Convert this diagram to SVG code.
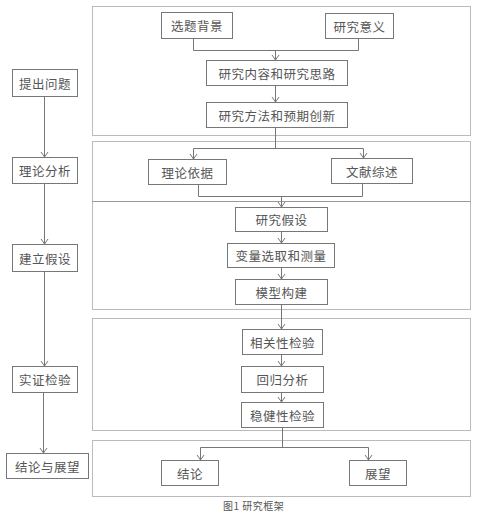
<svg xmlns="http://www.w3.org/2000/svg" width="492" height="523" viewBox="0 0 492 523">
<style>
.bg{fill:#fff}
.grp{fill:none;stroke:#777;stroke-width:1;stroke-dasharray:1 1}
.box{fill:#fff;stroke:#777;stroke-width:1}
.t{font-family:"Noto Sans CJK SC","Noto Sans CJK JP",sans-serif;font-size:12.5px;fill:#555;text-anchor:middle;dominant-baseline:central;letter-spacing:0.5px}
.cap{font-family:"Noto Sans CJK SC",sans-serif;font-size:10px;fill:#555;letter-spacing:0.5px}
.ln{fill:none;stroke:#777;stroke-width:1}
.ar{marker-end:url(#arr)}
</style>
<defs>
<marker id="arr" viewBox="-6 -5 7 10" markerWidth="7" markerHeight="10" refX="0" refY="0" orient="auto" markerUnits="userSpaceOnUse">
<path d="M-5,-3.5 L0,0 L-5,3.5" fill="none" stroke="#777" stroke-width="1"/>
</marker>
</defs>
<rect class="bg" x="0" y="0" width="492" height="523"/>
<g id="groups">
<rect class="grp" x="92.5" y="6.5" width="378" height="129"/>
<rect class="grp" x="92.5" y="141.5" width="378" height="60"/>
<rect class="grp" x="92.5" y="201.5" width="378" height="108"/>
<rect class="grp" x="92.5" y="318.5" width="378" height="112"/>
<rect class="grp" x="92.5" y="440.5" width="378" height="56"/>
</g>
<g id="connectors">
<path class="ln ar" d="M44.5,96 V157"/>
<path class="ln ar" d="M44.5,183 V244"/>
<path class="ln ar" d="M44.5,271 V366"/>
<path class="ln ar" d="M43.5,392 V453"/>
<path class="ln" d="M193.5,38 V50.5 H358.5 V38"/>
<path class="ln ar" d="M275.5,50.5 V60"/>
<path class="ln ar" d="M275.5,85 V102"/>
<path class="ln" d="M275.5,127 V148.5"/>
<path class="ln ar" d="M193.5,148.5 H363.5 V158"/>
<path class="ln ar" d="M193.5,148.5 V159"/>
<path class="ln" d="M198.5,184 V196.5 H362.5 V183"/>
<path class="ln ar" d="M281.5,196.5 V207"/>
<path class="ln ar" d="M281.5,231 V243"/>
<path class="ln ar" d="M281.5,267 V279"/>
<path class="ln ar" d="M281.5,304 V329"/>
<path class="ln ar" d="M281.5,354 V366"/>
<path class="ln ar" d="M281.5,392 V402"/>
<path class="ln" d="M282.5,427 V447.5"/>
<path class="ln ar" d="M200.5,447.5 H368.5 V460"/>
<path class="ln ar" d="M200.5,447.5 V460"/>
</g>
<g id="n-tichu"><rect class="box" x="12.5" y="69.5" width="65" height="27"/><text class="t" x="45" y="83">提出问题</text></g>
<g id="n-lilun"><rect class="box" x="12.5" y="157.5" width="65" height="26"/><text class="t" x="45" y="170.5">理论分析</text></g>
<g id="n-jianli"><rect class="box" x="12.5" y="244.5" width="65" height="27"/><text class="t" x="45" y="258">建立假设</text></g>
<g id="n-shizheng"><rect class="box" x="12.5" y="366.5" width="65" height="26"/><text class="t" x="45" y="379.5">实证检验</text></g>
<g id="n-jielunzw"><rect class="box" x="6.5" y="453.5" width="82" height="25"/><text class="t" x="47.5" y="466">结论与展望</text></g>
<g id="n-beijing"><rect class="box" x="161.5" y="12.5" width="71" height="26"/><text class="t" x="197" y="25.5">选题背景</text></g>
<g id="n-yiyi"><rect class="box" x="325.5" y="13.5" width="68" height="25"/><text class="t" x="359.5" y="26">研究意义</text></g>
<g id="n-neirong"><rect class="box" x="206.5" y="60.5" width="141" height="25"/><text class="t" x="277" y="73">研究内容和研究思路</text></g>
<g id="n-fangfa"><rect class="box" x="206.5" y="102.5" width="141" height="25"/><text class="t" x="277" y="115">研究方法和预期创新</text></g>
<g id="n-yiju"><rect class="box" x="148.5" y="159.5" width="78" height="25"/><text class="t" x="187.5" y="172">理论依据</text></g>
<g id="n-zongshu"><rect class="box" x="331.5" y="158.5" width="81" height="25"/><text class="t" x="372" y="171">文献综述</text></g>
<g id="n-jiashe"><rect class="box" x="235.5" y="207.5" width="92" height="24"/><text class="t" x="281.5" y="219.5">研究假设</text></g>
<g id="n-bianliang"><rect class="box" x="227.5" y="243.5" width="107" height="24"/><text class="t" x="281" y="255.5">变量选取和测量</text></g>
<g id="n-moxing"><rect class="box" x="235.5" y="279.5" width="92" height="25"/><text class="t" x="281.5" y="292">模型构建</text></g>
<g id="n-xiangguan"><rect class="box" x="242.5" y="329.5" width="80" height="25"/><text class="t" x="282.5" y="342">相关性检验</text></g>
<g id="n-huigui"><rect class="box" x="241.5" y="366.5" width="82" height="26"/><text class="t" x="282.5" y="379.5">回归分析</text></g>
<g id="n-wenjian"><rect class="box" x="241.5" y="402.5" width="82" height="25"/><text class="t" x="282.5" y="415">稳健性检验</text></g>
<g id="n-jielun"><rect class="box" x="161.5" y="460.5" width="57" height="25"/><text class="t" x="190" y="473">结论</text></g>
<g id="n-zhanwang"><rect class="box" x="349.5" y="460.5" width="57" height="25"/><text class="t" x="378" y="473">展望</text></g>
<text class="cap" x="223" y="510">图1 研究框架</text>
</svg>
